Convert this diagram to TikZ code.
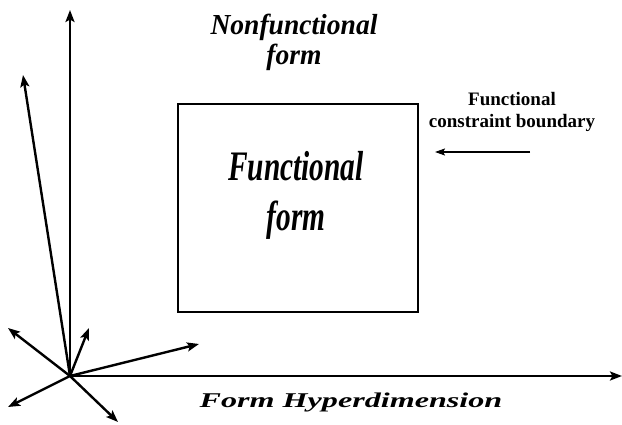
\documentclass[tikz,border=0pt]{standalone}
\usepackage{fontspec}
\setmainfont{Liberation Serif}
\usetikzlibrary{arrows.meta}

\tikzset{
    vec/.style={line width=2.4pt, -{Stealth[length=12pt,width=9pt,inset=2.5pt]}},
    lbl/.style={inner sep=0pt, align=center, transform shape}
}

\begin{document}
\begin{tikzpicture}[x=1pt,y=1pt]
    \useasboundingbox (0,0) rectangle (622,424);

    % 原点と各方向のベクトル
    \coordinate (O) at (70,48);
    \coordinate (up) at (70,414);
    \coordinate (tilt) at (23,349);
    \coordinate (lu) at (8,96);
    \coordinate (su) at (89,96);
    \coordinate (ru) at (199,80);
    \coordinate (ld) at (8,17);
    \coordinate (rd) at (118,2);
    \coordinate (xend) at (622,48);

    \foreach \p in {up,tilt,lu,su,ru,ld,rd,xend} {
        \draw[vec] (O)--(\p);
    }

    % 機能的な形の領域
    \draw[line width=2.8pt] (178,112) rectangle (418,320);
    \node[lbl, font=\bfseries\itshape\fontsize{42}{50}\selectfont, xscale=0.7] (func) at (296,229)
        {Functional\\form};

    \node[lbl, font=\bfseries\itshape\fontsize{29}{30}\selectfont, xscale=0.95] (nonfunc) at (294,382)
        {Nonfunctional\\form};

    % 制約の境界
    \node[lbl, font=\bfseries\fontsize{19}{22}\selectfont] (bound) at (512,312)
        {Functional\\constraint boundary};
    \coordinate (bs) at (530,272);
    \coordinate (be) at (435,272);
    \draw[line width=1.6pt, -{Stealth[length=10pt,width=7pt,inset=2pt]}] (bs)--(be);

    \node[lbl, font=\bfseries\itshape\fontsize{21}{24}\selectfont, xscale=1.53, anchor=base] (hyper) at (351,17)
        {Form Hyperdimension};
\end{tikzpicture}
\end{document}
